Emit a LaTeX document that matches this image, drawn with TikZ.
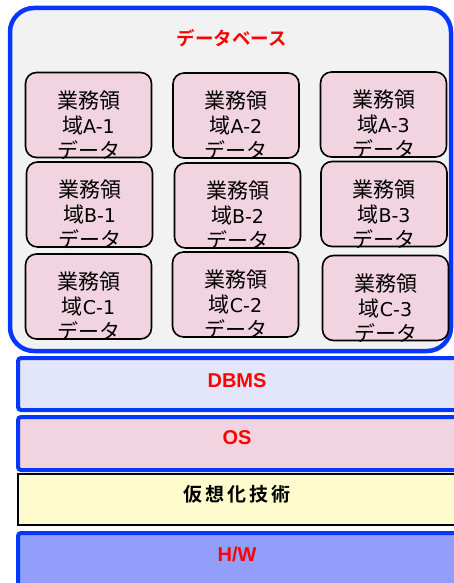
\documentclass[tikz,border=0pt]{standalone}
\usepackage{fontspec}
\newfontfamily\jp{Noto Sans CJK JP}
\newfontfamily\jpb{Noto Sans CJK JP Bold}
\newfontfamily\ar{Liberation Sans}
\newfontfamily\dv{DejaVu Sans}
\definecolor{bblue}{RGB}{5,55,255}
\definecolor{dbfill}{RGB}{242,242,242}
\definecolor{pinkf}{RGB}{241,212,224}
\definecolor{dbmsf}{RGB}{227,229,251}
\definecolor{virtf}{RGB}{254,252,204}
\definecolor{hwf}{RGB}{146,158,249}
\definecolor{redt}{RGB}{255,0,0}
\tikzset{
  x=1pt,y=-1pt,
  databox/.style={draw=black,line width=1.6pt,fill=pinkf,rounded corners=11pt,
    minimum width=126pt,minimum height=85pt,inner sep=0pt},
  boxtext/.style={align=center,inner sep=0pt,font=\jp\fontsize{21}{25}\selectfont},
  layer/.style={draw=bblue,line width=4pt,rounded corners=3pt},
  layertext/.style={font=\ar\bfseries\fontsize{20}{24}\selectfont,text=redt,inner sep=0pt},
}
\newcommand{\lat}[1]{{\dv\fontsize{19}{25}\selectfont #1}}
\begin{document}
\begin{tikzpicture}
\useasboundingbox (0,0) rectangle (454,583);
\clip (0,0) rectangle (454,583);
% database container
\draw[draw=bblue,line width=4.5pt,fill=dbfill,rounded corners=24pt] (10,8) rectangle (451,351);
\node[font=\jpb\fontsize{18.5}{20}\selectfont,text=redt,inner sep=0pt] (title) at (232,38) {データベース};
% inner boxes
\node[databox] (a1) at (88.5,115) {};
\node[databox] (a2) at (236,115.5) {};
\node[databox] (a3) at (383.5,114.5) {};
\node[databox] (b1) at (89.5,204.5) {};
\node[databox] (b2) at (237.5,205.5) {};
\node[databox] (b3) at (384,204) {};
\node[databox] (c1) at (88.5,296.5) {};
\node[databox] (c2) at (235.5,294.5) {};
\node[databox] (c3) at (385.5,298) {};
\node[boxtext] (ta1) at ([yshift=-10pt]a1.center) {業務領\\域\lat{A-1}\\データ};
\node[boxtext] (ta2) at ([yshift=-10pt]a2.center) {業務領\\域\lat{A-2}\\データ};
\node[boxtext] (ta3) at ([yshift=-10pt]a3.center) {業務領\\域\lat{A-3}\\データ};
\node[boxtext] (tb1) at ([yshift=-10pt]b1.center) {業務領\\域\lat{B-1}\\データ};
\node[boxtext] (tb2) at ([yshift=-10pt]b2.center) {業務領\\域\lat{B-2}\\データ};
\node[boxtext] (tb3) at ([yshift=-10pt]b3.center) {業務領\\域\lat{B-3}\\データ};
\node[boxtext] (tc1) at ([yshift=-10pt]c1.center) {業務領\\域\lat{C-1}\\データ};
\node[boxtext] (tc2) at ([yshift=-10pt]c2.center) {業務領\\域\lat{C-2}\\データ};
\node[boxtext] (tc3) at ([yshift=-10pt]c3.center) {業務領\\域\lat{C-3}\\データ};
% layers
\draw[layer,fill=dbmsf] (18,358) rectangle (470,410);
\node[layertext] (dbms) at (237,381) {DBMS};
\draw[layer,fill=pinkf] (18,417) rectangle (470,470);
\node[layertext] (os) at (237,438) {OS};
\draw[draw=black,line width=1.6pt,fill=virtf] (18,474) rectangle (470,525);
\node[font=\jpb\fontsize{19}{21}\selectfont,inner sep=0pt] (virt) at (237,494) {仮\,想\,化\,技\,術};
\draw[layer,fill=hwf] (18,533) rectangle (470,600);
\node[layertext] (hw) at (237,554) {H/W};
\end{tikzpicture}
\end{document}
